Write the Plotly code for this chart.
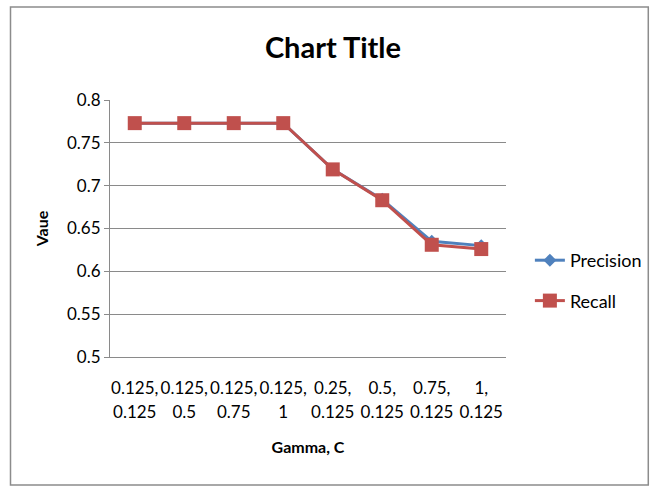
import plotly.graph_objects as go

# Parameter pairs (gamma, C) and the scores measured for each
gamma = ["0.125", "0.125", "0.125", "0.125", "0.25", "0.5", "0.75", "1"]
c_val = ["0.125", "0.5", "0.75", "1", "0.125", "0.125", "0.125", "0.125"]
precision = [0.773, 0.773, 0.773, 0.773, 0.719, 0.684, 0.635, 0.630]
recall = [0.773, 0.773, 0.773, 0.773, 0.719, 0.683, 0.631, 0.626]
y_ticks = [0.5, 0.55, 0.6, 0.65, 0.7, 0.75, 0.8]

categories = [f"{g}, {c}" for g, c in zip(gamma, c_val)]

FONT = "Lato, Open Sans, sans-serif"
BLUE = "#4F81BD"
RED = "#C0504D"
GRID = "#8a8a8a"

fig = go.Figure()
fig.add_trace(go.Scatter(
    x=categories, y=precision, name="Precision", mode="lines+markers",
    line=dict(color=BLUE, width=3),
    marker=dict(symbol="diamond", size=10, color=BLUE),
    legendgroup="p",
))
fig.add_trace(go.Scatter(
    x=categories, y=recall, name="Recall", mode="lines+markers",
    line=dict(color=RED, width=3),
    marker=dict(symbol="square", size=14, color=RED),
    legendgroup="r",
))
# invisible trace that carries the second row of category labels
fig.add_trace(go.Scatter(
    x=categories, y=recall, xaxis="x2", mode="none",
    showlegend=False, hoverinfo="skip",
))

# plot area in pixels
L, R, T, B = 110, 508, 100, 357
W, H = 659, 487

def px(x):
    return (x - L) / (R - L)

def py(y):
    return (B - y) / (B - T)

fig.add_shape(type="rect", xref="paper", yref="paper",
              x0=px(10), x1=px(651), y0=py(485), y1=py(7),
              line=dict(color="#8c8c8c", width=1.5), layer="below")

common_x = dict(
    type="category", categoryorder="array", categoryarray=categories,
    tickmode="array", tickvals=categories, range=[-0.5, 7.5],
    showgrid=False, ticks="", tickfont=dict(size=17),
)

fig.update_layout(
    width=W, height=H,
    margin=dict(l=L, r=W - R, t=T, b=H - B),
    paper_bgcolor="white", plot_bgcolor="white",
    font=dict(family=FONT, color="#000000", size=17),
    title=dict(text="<b>Chart Title</b>", x=333 / W, xanchor="center",
               y=1 - 48 / H, yanchor="middle",
               font=dict(size=29, family=FONT)),
    showlegend=True,
    legend=dict(x=px(532), y=py(242), xanchor="left", yanchor="top",
                font=dict(size=18, family=FONT), traceorder="grouped",
                tracegroupgap=14, bgcolor="rgba(0,0,0,0)"),
    xaxis=dict(
        **common_x, ticktext=[g + "," for g in gamma],
        showline=True, linecolor=GRID, linewidth=1,
        ticklabelstandoff=16,
        title=dict(text="<b>Gamma, C</b>", font=dict(size=16), standoff=44),
    ),
    xaxis2=dict(
        **common_x, ticktext=c_val, overlaying="x", anchor="y", side="bottom",
        showline=False, ticklabelstandoff=43,
    ),
    yaxis=dict(
        range=[0.5, 0.8], tickmode="array", tickvals=y_ticks,
        ticktext=[f"{v:g}" for v in y_ticks],
        showgrid=True, gridcolor=GRID, gridwidth=1,
        showline=True, linecolor=GRID, linewidth=1,
        ticks="outside", ticklen=5, tickcolor=GRID,
        tickfont=dict(size=17), zeroline=False,
        title=dict(text="<b>Vaue</b>", font=dict(size=16), standoff=14),
    ),
)

fig.write_html("out.html")
